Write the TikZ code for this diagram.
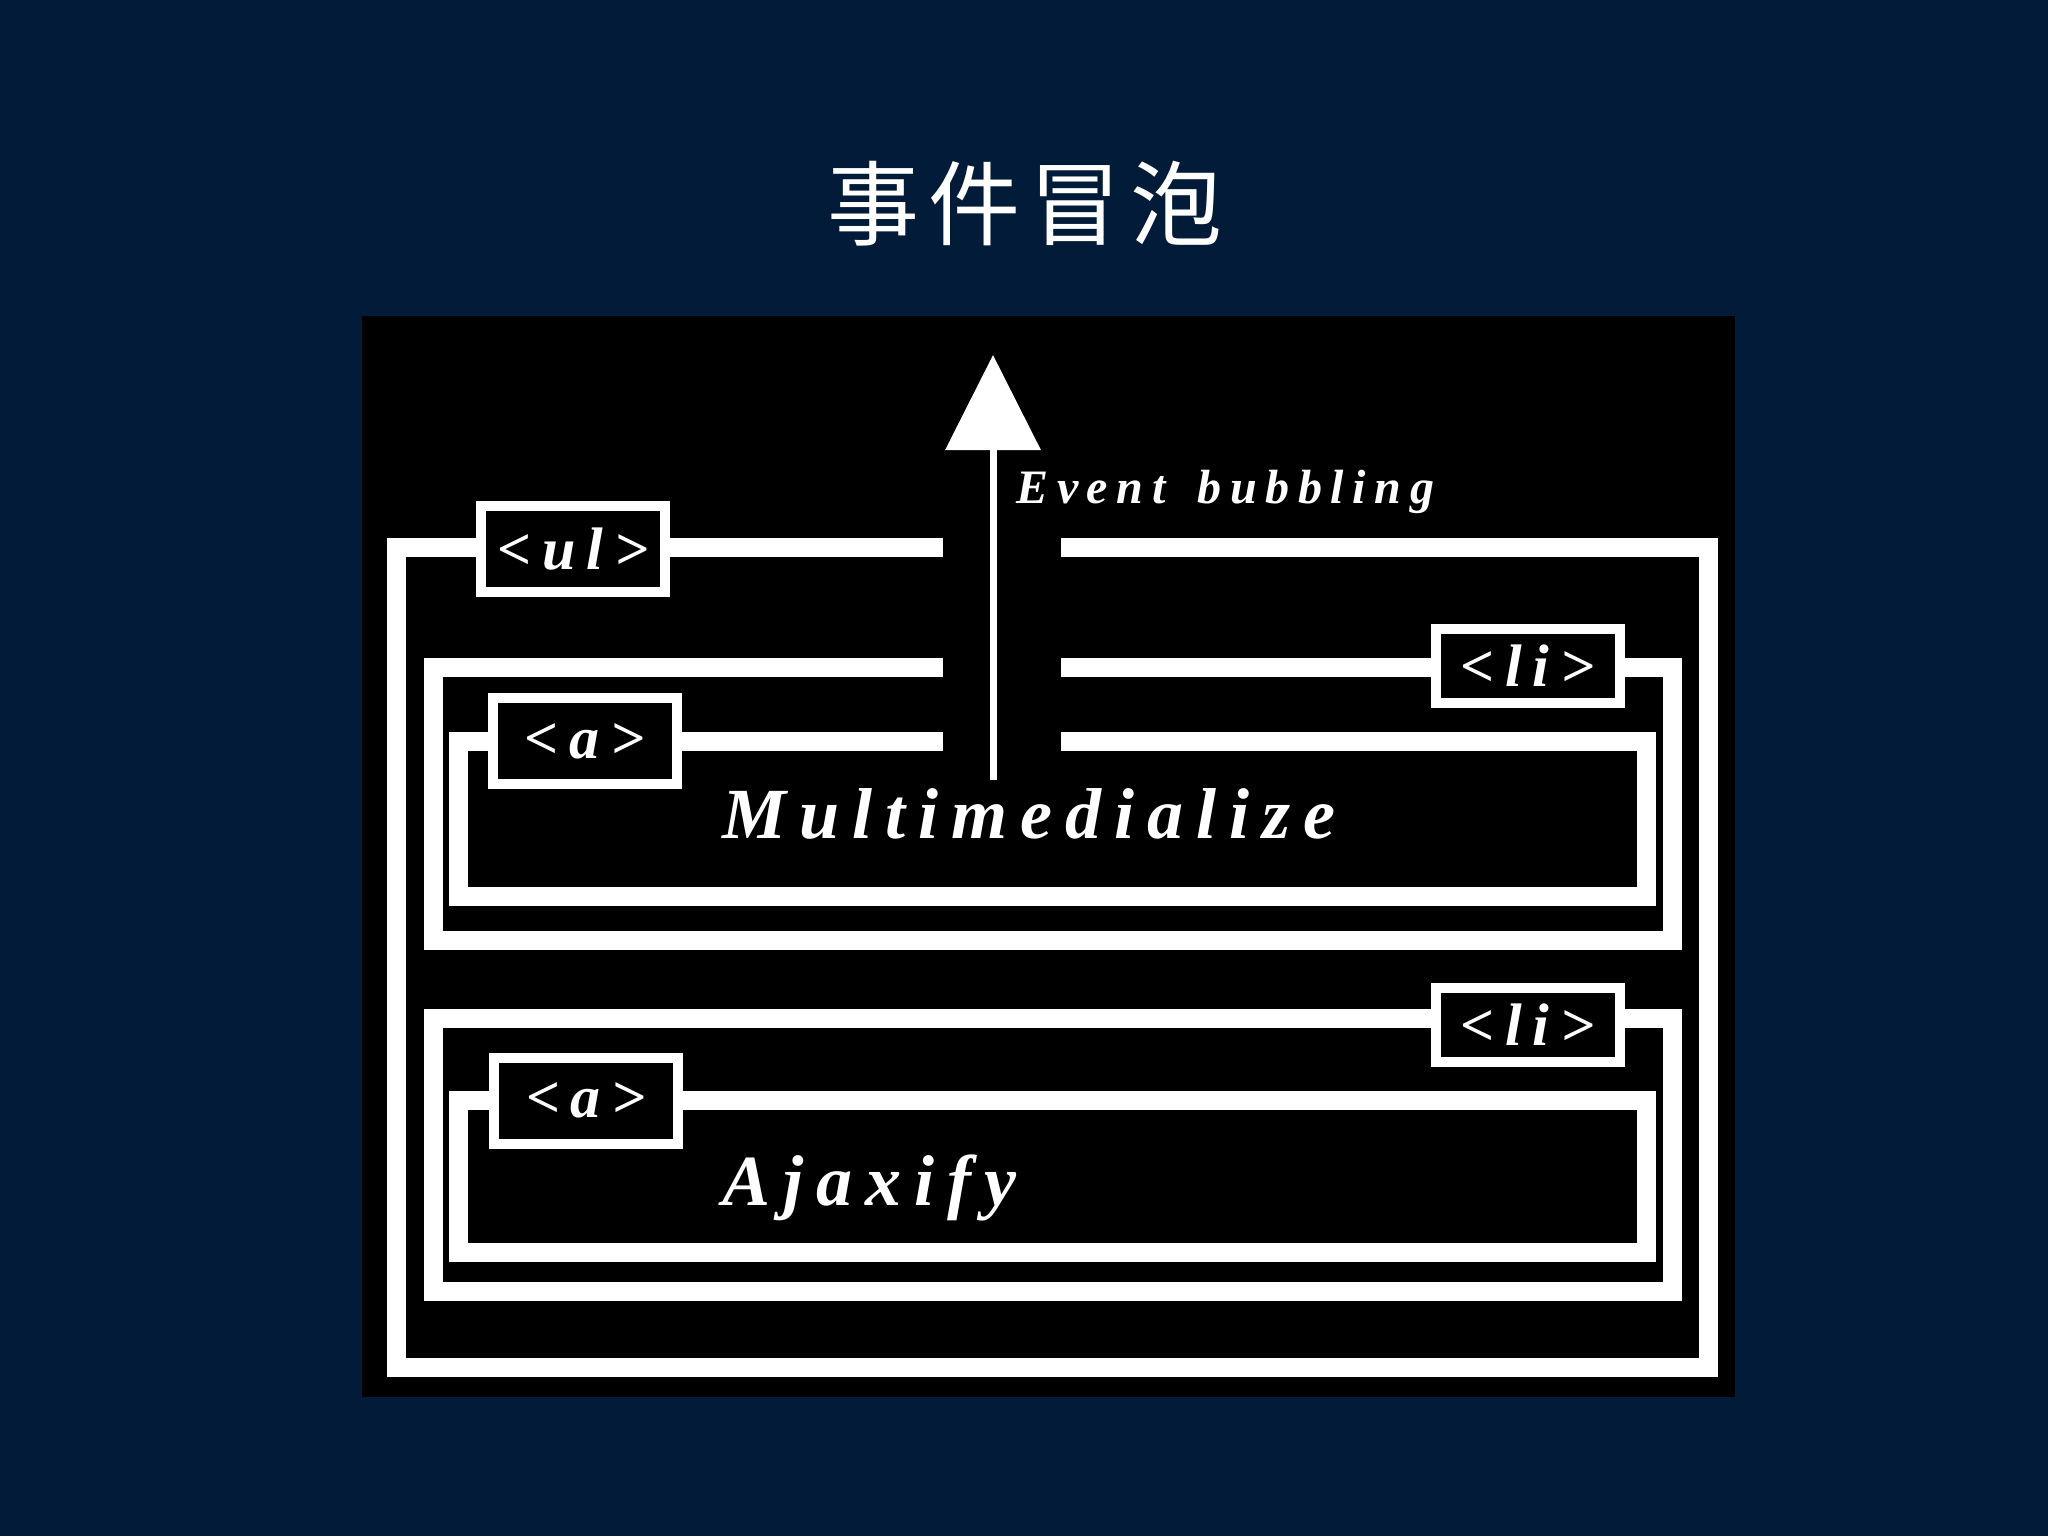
\documentclass[tikz,border=0pt]{standalone}
\usepackage{fontspec}
\usetikzlibrary{arrows.meta}
\newfontfamily\cjkfont[LetterSpace=10]{Noto Sans CJK SC}
\newfontfamily\labfont[LetterSpace=18]{Liberation Serif}
\definecolor{navy}{RGB}{1,27,56}
\tikzset{
  outline/.style={draw=white, line width=9.5pt, line join=miter, line cap=butt},
  tagbox/.style={draw=white, fill=black, line width=5pt, minimum width=92pt, minimum height=43pt, inner sep=0pt, text=white, font=\labfont\bfseries\itshape\fontsize{30pt}{32pt}\selectfont},
  libox/.style={tagbox, minimum height=37pt},
  bigtext/.style={text=white, anchor=base west, inner sep=0pt, font=\labfont\bfseries\itshape\fontsize{36pt}{40pt}\selectfont},
  smalltext/.style={text=white, anchor=base west, inner sep=0pt, font=\labfont\bfseries\itshape\fontsize{24pt}{26pt}\selectfont},
  titletext/.style={text=white, anchor=base, inner sep=0pt, font=\cjkfont\fontsize{46pt}{50pt}\selectfont}
}
\begin{document}
\begin{tikzpicture}[x=0.5pt,y=-0.5pt]
  \useasboundingbox (0,0) rectangle (2048,1536);
  \fill[navy] (0,0) rectangle (2048,1536);
  \fill[black] (362,316) rectangle (1735,1397);
  \node[titletext] (title) at (1025,238) {事件冒泡};
  % ul box
  \draw[outline] (943,547) -- (396,547) -- (396,1367) -- (1708,1367) -- (1708,547) -- (1061,547);
  % li 1
  \draw[outline] (943,667) -- (433,667) -- (433,940) -- (1672,940) -- (1672,667) -- (1061,667);
  % a 1
  \draw[outline] (943,741) -- (458,741) -- (458,896) -- (1646,896) -- (1646,741) -- (1061,741);
  % li 2
  \draw[outline] (433,1018) rectangle (1672,1291);
  % a 2
  \draw[outline] (458,1100) rectangle (1646,1252);
  % labels
  \node[tagbox] (ul) at (573,549) {<ul>};
  \node[libox] (li1) at (1527.5,666) {<li>};
  \node[tagbox] (a1) at (584.5,741) {<a>};
  \node[libox] (li2) at (1527.5,1025) {<li>};
  \node[tagbox] (a2) at (586,1100.5) {<a>};
  % texts
  \node[bigtext] (multi) at (722,838) {Multimedialize};
  \node[bigtext] (ajax) at (722,1205) {Ajaxify};
  \node[smalltext] (event) at (1016,503) {Event\hspace{16pt}bubbling};
  % arrow
  \coordinate (tail) at (993,780);
  \coordinate (tip) at (993,355);
  \draw[white, line width=3.5pt, -{Triangle[width=47pt,length=47.5pt]}] (tail) -- (tip);
\end{tikzpicture}
\end{document}
